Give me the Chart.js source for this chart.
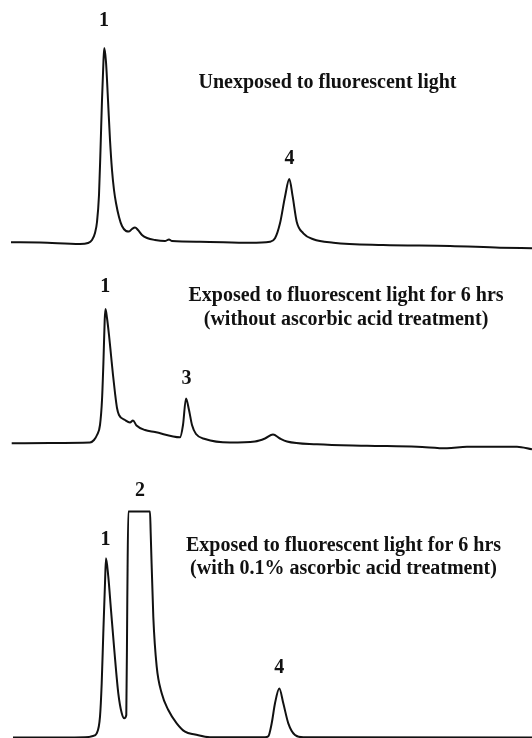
<!DOCTYPE html>
<html>
<head>
<meta charset="utf-8">
<script src="https://cdn.jsdelivr.net/npm/chart.js@4.4.1/dist/chart.umd.min.js"></script>
<style>
  html, body { margin: 0; padding: 0; background: #fff; }
  #wrap { position: relative; width: 532px; height: 738px; overflow: hidden; }
  canvas { position: absolute; left: 0; }
</style>
</head>
<body>
<div id="wrap">
  <canvas id="c1" width="532" height="250" style="top:0px"></canvas>
  <canvas id="c2" width="532" height="210" style="top:250px"></canvas>
  <canvas id="c3" width="532" height="278" style="top:460px"></canvas>
</div>
<script>
// retention time (min) and detector response

// unexposed
const time1 = [0.05, 1.5, 3.5, 3.9, 4.1, 4.25, 4.35, 4.45, 4.525, 4.6, 4.675, 4.715, 4.8, 4.9, 5.0, 5.1, 5.2, 5.3,
  5.45, 5.6, 5.8, 5.95, 6.1, 6.25, 6.4, 6.6, 6.85, 7.25, 7.75, 7.95, 8.1, 9.5, 12.0, 13.0, 13.25, 13.5, 13.75,
  13.965, 14.135, 14.335, 14.665, 15.165, 16.165, 18.65, 22.0, 24.5, 26.1];
const signal1 = [0.7, 0.5, -1, 0, 3, 10, 21, 48, 93, 143, 183, 195, 181, 143, 103, 73, 53, 40,
  26, 17, 12, 11.5, 14, 15.5, 13, 8, 5, 3, 2, 3.5, 2, 1.3, 0.3, 1.3, 4.7, 19.7, 46.3,
  64, 46.3, 21.3, 9.7, 3.7, 0.3, -2, -3, -4.7, -5.3];

// exposed, no ascorbic acid
const time2 = [0.085, 2.0, 4.0, 4.2, 4.35, 4.5, 4.6, 4.675, 4.735, 4.775, 4.85, 4.95, 5.05, 5.15, 5.25, 5.35,
  5.45, 5.75, 6.0, 6.15, 6.325, 6.75, 7.25, 8.5, 8.65, 8.8, 8.95, 9.1, 9.3, 9.75, 11.0, 12.25, 12.75, 13.15,
  13.5, 13.85, 15.35, 17.85, 20.35, 21.85, 22.85, 25.35, 26.1];
const signal2 = [-0.3, 0, 0.5, 3, 8, 18, 43, 83, 123, 134, 125, 108, 88, 68, 50, 35,
  28, 23, 20.5, 22.5, 17.5, 13, 11, 5.7, 18, 44.5, 33, 18, 9, 4, 0.5, 1.5, 4.5, 8.5,
  4.5, 1.5, -1.3, -2.7, -3.7, -5.3, -3.7, -3.7, -6.3];

// exposed, 0.1% ascorbic acid
const time3 = [0.15, 2.5, 3.75, 4.15, 4.335, 4.5, 4.585, 4.665, 4.75, 4.8, 4.915, 5.05, 5.215, 5.415, 5.585,
  5.715, 5.815, 5.865, 5.915, 7.0, 7.035, 7.165, 7.335, 7.585, 7.915, 8.335, 8.75, 9.25, 10.0, 12.75, 12.915,
  13.085, 13.25, 13.465, 13.665, 13.915, 14.25, 14.665, 26.1];
const signal3 = [-0.5, -0.5, -0.3, 1, 3.7, 20.3, 53.7, 103.7, 153.7, 178.7, 160.3, 127, 87, 43.7, 24,
  18.7, 22, 137, 225.5, 225.5, 203.7, 120.3, 70.3, 43.7, 27, 13.7, 5.3, 2.5, -0.3, -0.3, 0.7,
  13.7, 33.7, 48.5, 33.7, 13.7, 2, -0.3, -0.5];

// peak numbers
const peaks1 = ["1", "4"];
const peakTime1 = [4.7, 13.97];
const peakLabelY1 = [222.6, 84.5];
const peaks2 = ["1", "3"];
const peakTime2 = [4.76, 8.825];
const peakLabelY2 = [156.4, 63.7];
const peaks3 = ["1", "2", "4"];
const peakTime3 = [4.775, 6.5, 13.465];
const peakLabelY3 = [197, 246.3, 68.7];

const titles1 = ["Unexposed to fluorescent light"];
const titles2 = ["Exposed to fluorescent light for 6 hrs", "(without ascorbic acid treatment)"];
const titles3 = ["Exposed to fluorescent light for 6 hrs", "(with 0.1% ascorbic acid treatment)"];

const FONT = 'bold 20px "Liberation Serif", "Times New Roman", serif';

const textPlugin = {
  id: "chromText",
  afterDatasetsDraw(chart, args, opts) {
    const ctx = chart.ctx;
    const xs = chart.scales.x;
    const ys = chart.scales.y;
    ctx.save();
    ctx.font = FONT;
    ctx.fillStyle = "#111";
    ctx.textAlign = "center";
    ctx.textBaseline = "middle";
    opts.labels.forEach(l => {
      ctx.fillText(l.text, xs.getPixelForValue(l.t), ys.getPixelForValue(l.v));
    });
    opts.titles.forEach((line, i) => {
      ctx.fillText(line, xs.getPixelForValue(opts.titleT), ys.getPixelForValue(opts.titleV[i]));
    });
    ctx.restore();
  }
};

function makeTrace(id, times, signals, names, nameT, nameV, titles, titleT, titleV, yMin, yMax) {
  const points = times.map((t, i) => ({ x: t, y: signals[i] }));
  const labels = names.map((n, i) => ({ text: n, t: nameT[i], v: nameV[i] }));
  new Chart(document.getElementById(id), {
    type: "line",
    data: {
      datasets: [{
        data: points,
        borderColor: "#111",
        borderWidth: 2,
        pointRadius: 0,
        fill: false,
        cubicInterpolationMode: "monotone",
        clip: false
      }]
    },
    options: {
      responsive: false,
      animation: false,
      layout: { padding: 0 },
      scales: {
        x: { type: "linear", min: -0.5, max: 26.1, display: false },
        y: { type: "linear", min: yMin, max: yMax, display: false }
      },
      plugins: {
        legend: { display: false },
        tooltip: { enabled: false },
        chromText: { labels: labels, titles: titles, titleT: titleT, titleV: titleV }
      }
    },
    plugins: [textPlugin]
  });
}

makeTrace("c1", time1, signal1, peaks1, peakTime1, peakLabelY1, titles1, 15.875, [160], -7, 243);
makeTrace("c2", time2, signal2, peaks2, peakTime2, peakLabelY2, titles2, 16.8, [147.2, 123.4], -17, 193);
makeTrace("c3", time3, signal3, peaks3, peakTime3, peakLabelY3, titles3, 16.675, [191, 168], -1, 277);
</script>
</body>
</html>
